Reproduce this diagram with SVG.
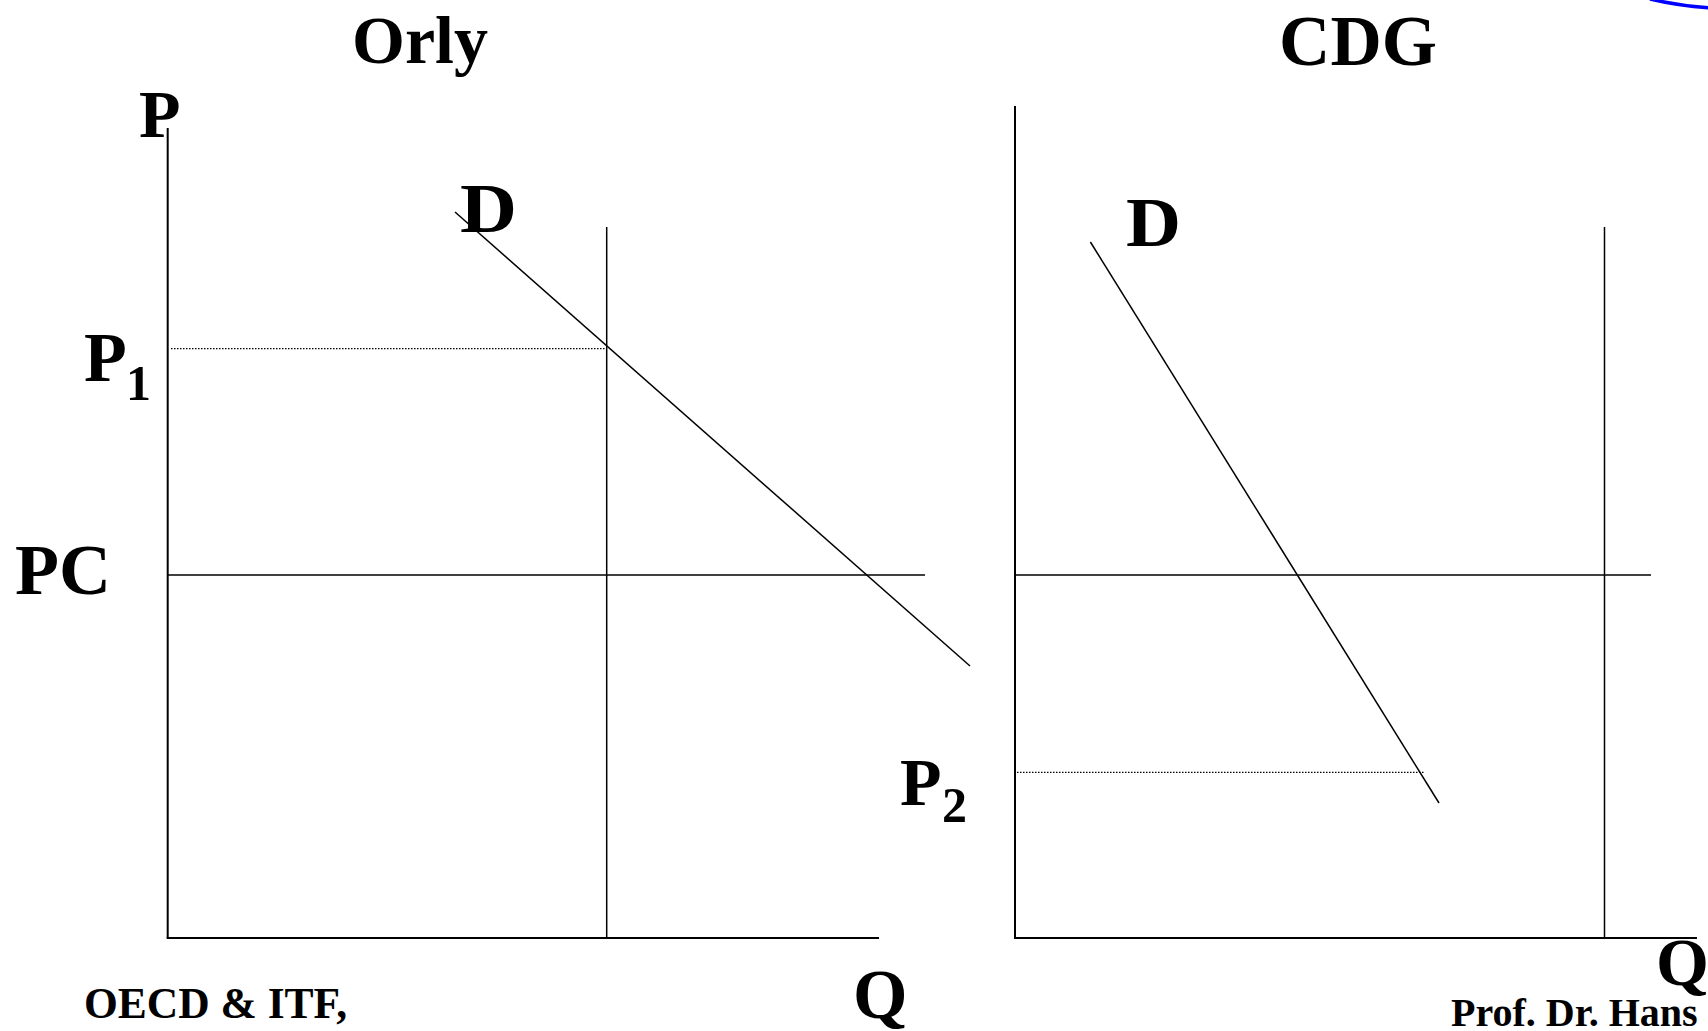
<svg xmlns="http://www.w3.org/2000/svg" width="1708" height="1031" viewBox="0 0 1708 1031">
<style>
.t{font-family:"Liberation Serif","Times New Roman",serif;font-weight:bold;fill:#000}
.ax{stroke:#000;stroke-width:2;fill:none}
.ln{stroke:#000;stroke-width:1.5;fill:none}
.dot{stroke:#000;stroke-width:1.2;stroke-dasharray:1.5 1.5;fill:none}
</style>
<rect width="1708" height="1031" fill="#fff"/>
<g id="connectors">
  <!-- Orly panel -->
  <line class="ax" x1="167.7" y1="128" x2="167.7" y2="938"/>
  <line class="ax" x1="166.7" y1="938" x2="879" y2="938"/>
  <line class="ln" x1="606.7" y1="227" x2="606.7" y2="938"/>
  <line class="ln" x1="167.7" y1="575" x2="925" y2="575"/>
  <line class="ln" x1="455" y1="212" x2="970" y2="666"/>
  <line class="dot" x1="171" y1="348.6" x2="606" y2="348.6"/>
  <!-- CDG panel -->
  <line class="ax" x1="1015" y1="106" x2="1015" y2="938"/>
  <line class="ax" x1="1014" y1="938" x2="1697" y2="938"/>
  <line class="ln" x1="1604.5" y1="227" x2="1604.5" y2="938"/>
  <line class="ln" x1="1015" y1="575" x2="1651" y2="575"/>
  <line class="ln" x1="1090.4" y1="242" x2="1439" y2="803"/>
  <line class="dot" x1="1017" y1="772.3" x2="1424" y2="772.3"/>
  <path d="M1650,-1 Q1680,6 1710,8" stroke="#0000ff" stroke-width="3.5" fill="none"/>
</g>
<g id="orly-title"><text class="t" x="420" y="63" font-size="68" text-anchor="middle">Orly</text></g>
<g id="cdg-title"><text class="t" x="1358" y="65" font-size="71" text-anchor="middle">CDG</text></g>
<g id="label-P"><text class="t" x="139" y="137" font-size="68">P</text></g>
<g id="label-D-orly"><text class="t" x="460" y="232" font-size="70" textLength="57" lengthAdjust="spacingAndGlyphs">D</text></g>
<g id="label-P1"><text class="t" x="84" y="381" font-size="70">P<tspan font-size="50" x="126" y="400">1</tspan></text></g>
<g id="label-PC"><text class="t" x="15" y="594" font-size="72">PC</text></g>
<g id="label-Q-orly"><text class="t" x="853" y="1018" font-size="70">Q</text></g>
<g id="label-D-cdg"><text class="t" x="1126" y="246" font-size="70" textLength="55" lengthAdjust="spacingAndGlyphs">D</text></g>
<g id="label-P2"><text class="t" x="900" y="805" font-size="68">P<tspan font-size="50" x="942" y="822">2</tspan></text></g>
<g id="label-Q-cdg"><text class="t" x="1656" y="985" font-size="68">Q</text></g>
<g id="footer-left"><text class="t" x="84" y="1018" font-size="43.5">OECD &amp; ITF,</text></g>
<g id="footer-right"><text class="t" x="1451" y="1026" font-size="40">Prof. Dr. Hans</text></g>
</svg>
